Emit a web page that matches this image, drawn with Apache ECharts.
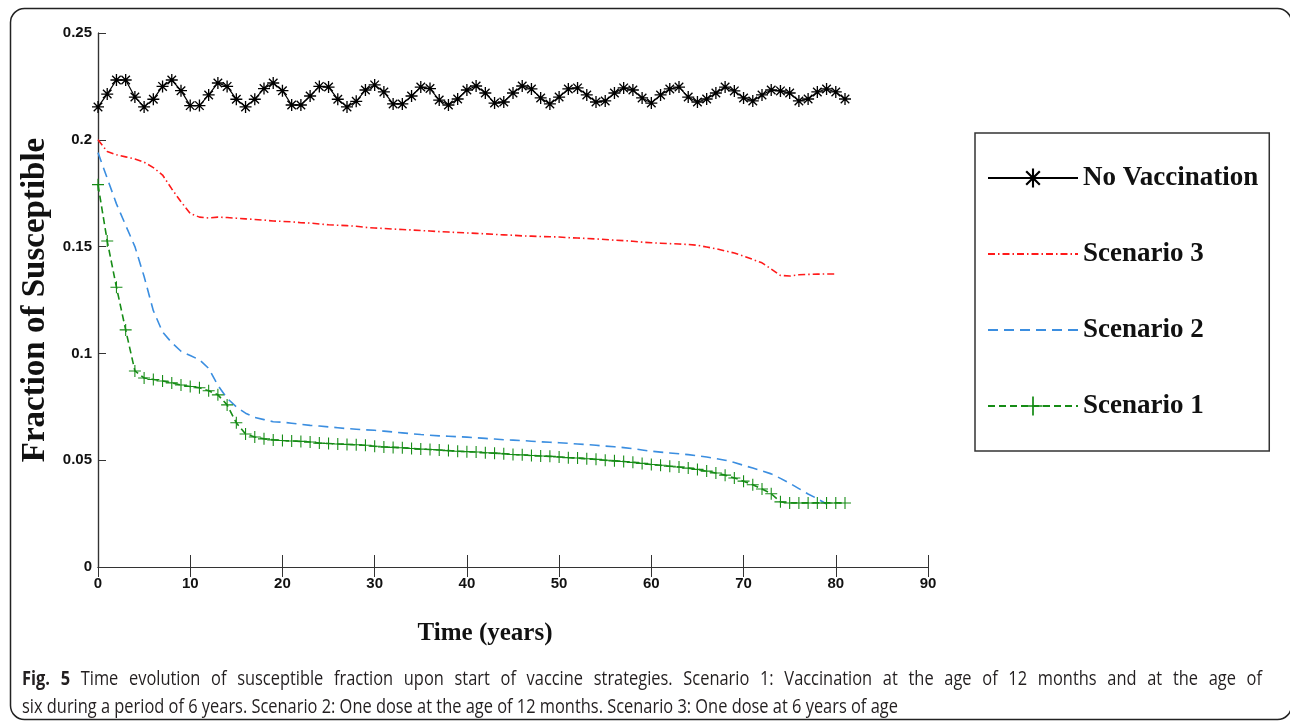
<!DOCTYPE html>
<html>
<head>
<meta charset="utf-8">
<script src="https://cdn.jsdelivr.net/npm/echarts@6/dist/echarts.min.js"></script>
<style>
  html, body { margin: 0; padding: 0; background: #fff; }
  #chart { width: 1290px; height: 724px; }
</style>
</head>
<body>
<div id="chart"></div>
<script>
// time in years, one point per year
const years = [0, 1, 2, 3, 4, 5, 6, 7, 8, 9, 10, 11, 12, 13, 14, 15, 16, 17, 18, 19,
  20, 21, 22, 23, 24, 25, 26, 27, 28, 29, 30, 31, 32, 33, 34, 35, 36, 37, 38, 39,
  40, 41, 42, 43, 44, 45, 46, 47, 48, 49, 50, 51, 52, 53, 54, 55, 56, 57, 58, 59,
  60, 61, 62, 63, 64, 65, 66, 67, 68, 69, 70, 71, 72, 73, 74, 75, 76, 77, 78, 79,
  80, 81]

const noVaccination = [0.2154, 0.2214, 0.228, 0.228, 0.220, 0.2154, 0.219, 0.225, 0.228, 0.223,
  0.216, 0.216, 0.221, 0.2266, 0.225, 0.219, 0.2154, 0.219, 0.224, 0.2266,
  0.223, 0.2163, 0.2163, 0.2205, 0.225, 0.2247, 0.219, 0.2154, 0.218, 0.2233,
  0.2257, 0.2224, 0.2168, 0.2168, 0.2205, 0.2247, 0.224, 0.2186, 0.2163, 0.2191,
  0.2233, 0.2252, 0.2219, 0.2172, 0.2177, 0.2219, 0.2252, 0.2238, 0.2196, 0.2168,
  0.22, 0.2238, 0.2243, 0.221, 0.2177, 0.2182, 0.2219, 0.2243, 0.2233, 0.2196,
  0.2172, 0.221, 0.2238, 0.2247, 0.22, 0.2177, 0.2191, 0.2219, 0.2247, 0.2229,
  0.2196, 0.2182, 0.221, 0.2233, 0.2229, 0.2219, 0.2182, 0.2191, 0.2224, 0.2238,
  0.2224, 0.2191]

const scenario3 = [0.2, 0.1945, 0.193, 0.192, 0.191, 0.1895, 0.187, 0.1835, 0.177, 0.171,
  0.1655, 0.1638, 0.1634, 0.1638, 0.1636, 0.1633, 0.163, 0.1627, 0.1624, 0.162,
  0.1618, 0.1616, 0.1612, 0.161, 0.1606, 0.1602, 0.16, 0.1598, 0.1595, 0.159,
  0.1587, 0.1585, 0.1582, 0.158, 0.1578, 0.1575, 0.1573, 0.157, 0.1568, 0.1566,
  0.1564, 0.1562, 0.156, 0.1557, 0.1555, 0.1553, 0.155, 0.1549, 0.1547, 0.1546,
  0.1545, 0.1542, 0.154, 0.1538, 0.1536, 0.1533, 0.153, 0.1528, 0.1525, 0.1521,
  0.1518, 0.1516, 0.1514, 0.1512, 0.151, 0.1506, 0.1498, 0.149, 0.148, 0.147,
  0.1455, 0.144, 0.1424, 0.1395, 0.1365, 0.1362, 0.1368, 0.137, 0.1371, 0.1372,
  0.1372]

const scenario2 = [0.194, 0.182, 0.170, 0.160, 0.150, 0.136, 0.120, 0.110, 0.105, 0.101,
  0.099, 0.097, 0.093, 0.085, 0.079, 0.075, 0.072, 0.070, 0.069, 0.068,
  0.0678, 0.0673, 0.0668, 0.0663, 0.066, 0.0656, 0.0652, 0.0648, 0.0645, 0.0642,
  0.064, 0.0636, 0.0632, 0.0628, 0.0624, 0.062, 0.0617, 0.0614, 0.0612, 0.061,
  0.0608, 0.0605, 0.0602, 0.0599, 0.0596, 0.0594, 0.0592, 0.0589, 0.0586, 0.0584,
  0.0582, 0.0579, 0.0576, 0.0573, 0.057, 0.0566, 0.0563, 0.0559, 0.0554, 0.0548,
  0.0542, 0.0538, 0.0534, 0.053, 0.0526, 0.0521, 0.0515, 0.0508, 0.05, 0.0489,
  0.0476, 0.0463, 0.045, 0.0436, 0.0415, 0.0392, 0.0367, 0.0342, 0.032, 0.0295]

const scenario1 = [0.179, 0.1526, 0.131, 0.111, 0.0918, 0.0885, 0.0878, 0.0871, 0.0862, 0.0852,
  0.0845, 0.0839, 0.0825, 0.0806, 0.0759, 0.0675, 0.0623, 0.0609, 0.06, 0.0595,
  0.0592, 0.059, 0.0588, 0.0585, 0.058, 0.0578, 0.0576, 0.0574, 0.0572, 0.057,
  0.0565, 0.0562, 0.056, 0.0558, 0.0555, 0.0552, 0.055, 0.0548, 0.0545, 0.0542,
  0.054, 0.0538, 0.0535, 0.0533, 0.053, 0.0527, 0.0525, 0.0522, 0.052, 0.0518,
  0.0515, 0.0512, 0.051, 0.0507, 0.0504, 0.05, 0.0497, 0.0494, 0.049, 0.0485,
  0.048, 0.0476, 0.0472, 0.0468, 0.0463, 0.0457, 0.0449, 0.044, 0.043, 0.0417,
  0.0402, 0.0385, 0.0365, 0.0343, 0.0305, 0.03, 0.03, 0.03, 0.03, 0.03,
  0.03, 0.03]

const seriesNames = ['No Vaccination', 'Scenario 3', 'Scenario 2', 'Scenario 1']

const captionLine1 = 'Time evolution of susceptible fraction upon start of vaccine strategies. Scenario 1: Vaccination at the age of 12 months and at the age of'
const captionLine2 = 'six during a period of 6 years. Scenario 2: One dose at the age of 12 months. Scenario 3: One dose at 6 years of age'

const ASTERISK = 'path://M-1.1,-10L1.1,-10L1.1,10L-1.1,10Z M-10,-1.1L10,-1.1L10,1.1L-10,1.1Z ' +
  'M-7.9,-6.3L-6.3,-7.9L7.9,6.3L6.3,7.9Z M6.3,-7.9L7.9,-6.3L-6.3,7.9L-7.9,6.3Z'
const PLUS = 'path://M-0.9,-10L0.9,-10L0.9,10L-0.9,10Z M-10,-0.9L10,-0.9L10,0.9L-10,0.9Z'

const tickFont = {
  fontFamily: '"Liberation Sans Narrow", "Liberation Sans", sans-serif',
  fontWeight: 'bold',
  fontSize: 15,
  color: '#111'
}
const serifBold = '"Liberation Serif", "Times New Roman", serif'
const captionFont = '"Open Sans", sans-serif'
const captionScale = 0.82

function pairs(values) {
  return values.map((v, i) => [years[i], v])
}

// caption's first line is justified between the frame margins, like the journal layout
function justifiedCaption(left, right, y) {
  const ctx = document.createElement('canvas').getContext('2d')
  const words = [
    { text: 'Fig.', bold: true },
    { text: '5', bold: true }
  ].concat(captionLine1.split(' ').map(t => ({ text: t, bold: false })))
  const widths = words.map(w => {
    ctx.font = (w.bold ? 'bold ' : '') + '20px ' + captionFont
    return ctx.measureText(w.text).width * captionScale
  })
  const total = widths.reduce((a, b) => a + b, 0)
  const gap = (right - left - total) / (words.length - 1)
  let x = left
  return words.map((w, i) => {
    const el = {
      type: 'text',
      x: x,
      y: y,
      scaleX: captionScale,
      style: {
        text: w.text,
        fontFamily: captionFont,
        fontWeight: w.bold ? 'bold' : 'normal',
        fontSize: 20,
        fill: '#231f20'
      }
    }
    x += widths[i] + gap
    return el
  })
}

function init(id = 'chart') {
  const myChart = echarts.init(document.getElementById(id))
  myChart.setOption(getOptions())
}

function getOptions() {
  return {
    animation: false,
    backgroundColor: '#fff',
    grid: { left: 98, top: 33, width: 830, height: 534 },
    legend: {
      orient: 'vertical',
      left: 975,
      top: 133,
      // lines without markers: hide the default circle in the legend icon
      data: seriesNames.map(n =>
        n === 'Scenario 3' || n === 'Scenario 2' ? { name: n, itemStyle: { opacity: 0 } } : n),
      itemWidth: 90,
      itemHeight: 24,
      itemGap: 46,
      padding: [30, 11, 30, 12],
      borderColor: '#333',
      borderWidth: 1.5,
      textStyle: {
        fontFamily: serifBold,
        fontWeight: 'bold',
        fontSize: 27,
        lineHeight: 30,
        color: '#111'
      }
    },
    xAxis: [
      {
        type: 'value',
        min: 0,
        max: 90,
        interval: 10,
        name: 'Time (years)',
        nameLocation: 'middle',
        nameGap: 54,
        nameTextStyle: {
          fontFamily: serifBold,
          fontWeight: 'bold',
          fontSize: 25,
          color: '#111',
          padding: [0, 56, 0, 0]
        },
        axisLine: { lineStyle: { color: '#333', width: 1.2 } },
        axisTick: { inside: true, length: 12, lineStyle: { color: '#333' } },
        axisLabel: Object.assign({ margin: 9 }, tickFont),
        splitLine: { show: false }
      },
      {
        type: 'value',
        position: 'top',
        min: 0,
        max: 90,
        interval: 10,
        axisLine: { lineStyle: { color: '#333', width: 1.2 } },
        axisTick: { inside: true, length: 10, lineStyle: { color: '#333' } },
        axisLabel: { show: false },
        splitLine: { show: false }
      }
    ],
    yAxis: [
      {
        type: 'value',
        min: 0,
        max: 0.25,
        interval: 0.05,
        name: 'Fraction of Susceptible',
        nameLocation: 'middle',
        nameGap: 42,
        nameTextStyle: {
          fontFamily: serifBold,
          fontWeight: 'bold',
          fontSize: 33,
          color: '#111'
        },
        axisLine: { show: true, lineStyle: { color: '#333', width: 1.2 } },
        axisTick: { show: true, inside: true, length: 8, lineStyle: { color: '#333' } },
        axisLabel: Object.assign({ margin: 6 }, tickFont),
        splitLine: { show: false }
      },
      {
        type: 'value',
        position: 'right',
        min: 0,
        max: 0.25,
        interval: 0.05,
        axisLine: { show: true, lineStyle: { color: '#333', width: 1.2 } },
        axisTick: { show: false },
        axisLabel: { show: false },
        splitLine: { show: false }
      }
    ],
    series: [
      {
        name: 'No Vaccination',
        type: 'line',
        data: pairs(noVaccination),
        symbol: ASTERISK,
        symbolSize: 12,
        itemStyle: { color: '#000' },
        lineStyle: { color: '#000', width: 1.2 },
        z: 4
      },
      {
        name: 'Scenario 3',
        type: 'line',
        data: pairs(scenario3),
        symbol: 'none',
        itemStyle: { color: '#ff1a1a' },
        lineStyle: { color: '#ff1a1a', width: 1.6, type: [7, 3, 1.5, 3] }
      },
      {
        name: 'Scenario 2',
        type: 'line',
        data: pairs(scenario2),
        symbol: 'none',
        itemStyle: { color: '#3b8ee0' },
        lineStyle: { color: '#3b8ee0', width: 1.6, type: [10, 6] }
      },
      {
        name: 'Scenario 1',
        type: 'line',
        data: pairs(scenario1),
        symbol: PLUS,
        symbolSize: 12,
        itemStyle: { color: '#168c16' },
        lineStyle: { color: '#168c16', width: 1.6, type: [7, 4] },
        z: 3
      }
    ],
    graphic: [
      {
        type: 'rect',
        shape: { x: 10.5, y: 8.5, width: 1281, height: 711, r: 14 },
        style: { fill: 'none', stroke: '#222', lineWidth: 1.5 },
        silent: true,
        z: -1
      },
      {
        type: 'text',
        x: 22,
        y: 697,
        scaleX: captionScale,
        style: {
          text: captionLine2,
          fontFamily: captionFont,
          fontSize: 20,
          fill: '#231f20'
        }
      }
    ].concat(justifiedCaption(22, 1262, 669))
  }
}

init()
</script>
</body>
</html>
